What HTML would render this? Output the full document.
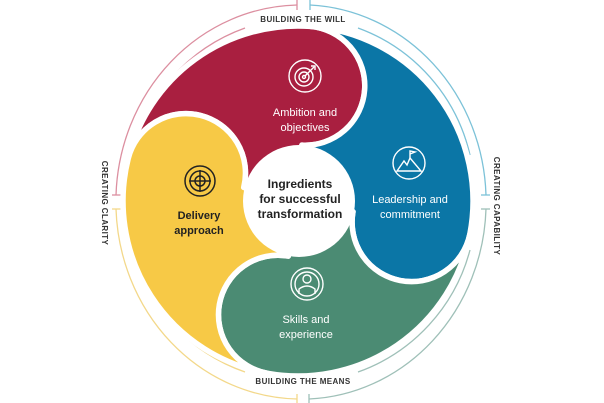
<!DOCTYPE html>
<html><head><meta charset="utf-8"><style>
html,body{margin:0;padding:0;background:#fff;}
svg{display:block;}
text{font-family:"Liberation Sans",sans-serif;}
</style></head><body>
<svg width="604" height="403" viewBox="0 0 604 403" xmlns="http://www.w3.org/2000/svg">
<!-- outer arcs -->
<g fill="none" stroke-width="1.3">
<path d="M116,195 A185,197 0 0 1 297,5" stroke="#dc8fa0"/>
<path d="M310,5 A185,197 0 0 1 486,195" stroke="#7cc2d8"/>
<path d="M486,209 A185,197 0 0 1 309,399" stroke="#9fc0b8"/>
<path d="M297,399 A185,197 0 0 1 116,209" stroke="#f3d88a"/>
<line x1="297" y1="0" x2="297" y2="10" stroke="#dc8fa0"/>
<line x1="310" y1="0" x2="310" y2="10" stroke="#7cc2d8"/>
<line x1="112" y1="195" x2="121" y2="195" stroke="#dc8fa0"/>
<line x1="112" y1="209" x2="121" y2="209" stroke="#f3d88a"/>
<line x1="481" y1="195" x2="490" y2="195" stroke="#7cc2d8"/>
<line x1="481" y1="209" x2="490" y2="209" stroke="#9fc0b8"/>
<line x1="297" y1="394" x2="297" y2="403" stroke="#f3d88a"/>
<line x1="309" y1="394" x2="309" y2="403" stroke="#9fc0b8"/>
<!-- inner arcs -->
<path d="M132,155 A177,178 0 0 1 245,28" stroke="#dc8fa0"/>
<path d="M358,28 A177,178 0 0 1 470,155" stroke="#7cc2d8"/>
<path d="M470,250 A177,178 0 0 1 358,372" stroke="#9fc0b8"/>
<path d="M245,372 A177,178 0 0 1 132,250" stroke="#f3d88a"/>
</g>
<!-- swirl -->
<g stroke="#fff" stroke-width="5.5" stroke-linejoin="round">
<path fill="#a91f40" d="M243.7,187.5 A59.5,59.5 0 0 0 128.2,158.7 A175,175 0 0 1 310.2,26.4 A59.5,59.5 0 0 1 301.9,145.1 L298,201Z"/>
<path fill="#0b76a6" d="M301.9,145.1 A59.5,59.5 0 0 0 310.2,26.4 A175,175 0 0 1 469.8,234.4 A59.5,59.5 0 0 1 353,211.7 L298,201Z"/>
<path fill="#4b8b73" d="M353,211.7 A59.5,59.5 0 0 0 469.8,234.4 A175,175 0 0 1 267.6,373.3 A59.5,59.5 0 0 1 288.3,256.1 L298,201Z"/>
<path fill="#f7c946" d="M288.3,256.1 A59.5,59.5 0 0 0 267.6,373.3 A175,175 0 0 1 128.2,158.7 A59.5,59.5 0 0 1 243.7,187.5 L298,201Z"/>
</g>
<circle cx="299" cy="201" r="56" fill="#fff"/>
<!-- icons -->
<g fill="none" stroke="#fff" stroke-width="1.4">
<circle cx="305" cy="76" r="16"/><circle cx="304" cy="77" r="9"/><circle cx="304" cy="77" r="5"/><circle cx="304" cy="77" r="1.5"/>
<line x1="305" y1="76" x2="314" y2="67"/><path d="M311,66 L315,66 L315,70"/>
<circle cx="409" cy="163" r="16"/><path d="M397,171 L404,161 L407,165 L410,158 L421,171 Z"/><path d="M410,158 L410,151 L415,152 L410,154"/>
<circle cx="307" cy="284" r="16"/><circle cx="307" cy="284" r="12"/><circle cx="307" cy="279" r="4"/><path d="M299,294 L299,289 Q307,283 315,289 L315,294"/>
</g>
<g fill="none" stroke="#222" stroke-width="1.5">
<circle cx="200" cy="181" r="15"/><circle cx="200" cy="181" r="10"/><circle cx="200" cy="181" r="5"/>
<line x1="200" y1="170" x2="200" y2="192"/><line x1="189" y1="181" x2="211" y2="181"/>
</g>
<!-- labels -->
<g font-size="11" text-anchor="middle" fill="#fff">
<text x="305" y="116">Ambition and</text><text x="305" y="131">objectives</text>
<text x="410" y="203">Leadership and</text><text x="410" y="218">commitment</text>
<text x="306" y="323">Skills and</text><text x="306" y="338">experience</text>
</g>
<g font-size="11" text-anchor="middle" fill="#222" font-weight="bold">
<text x="199" y="219">Delivery</text><text x="199" y="234">approach</text>
</g>
<g font-size="12" text-anchor="middle" fill="#222" font-weight="bold">
<text x="300" y="188">Ingredients</text><text x="300" y="203">for successful</text><text x="300" y="218">transformation</text>
</g>
<g font-size="8" fill="#333" text-anchor="middle" letter-spacing="0.4" font-weight="bold">
<text x="303" y="22">BUILDING THE WILL</text>
<text x="303" y="384">BUILDING THE MEANS</text>
<text transform="translate(102,203) rotate(90)">CREATING CLARITY</text>
<text transform="translate(494,206) rotate(90)">CREATING CAPABILITY</text>
</g>
</svg>
</body></html>
